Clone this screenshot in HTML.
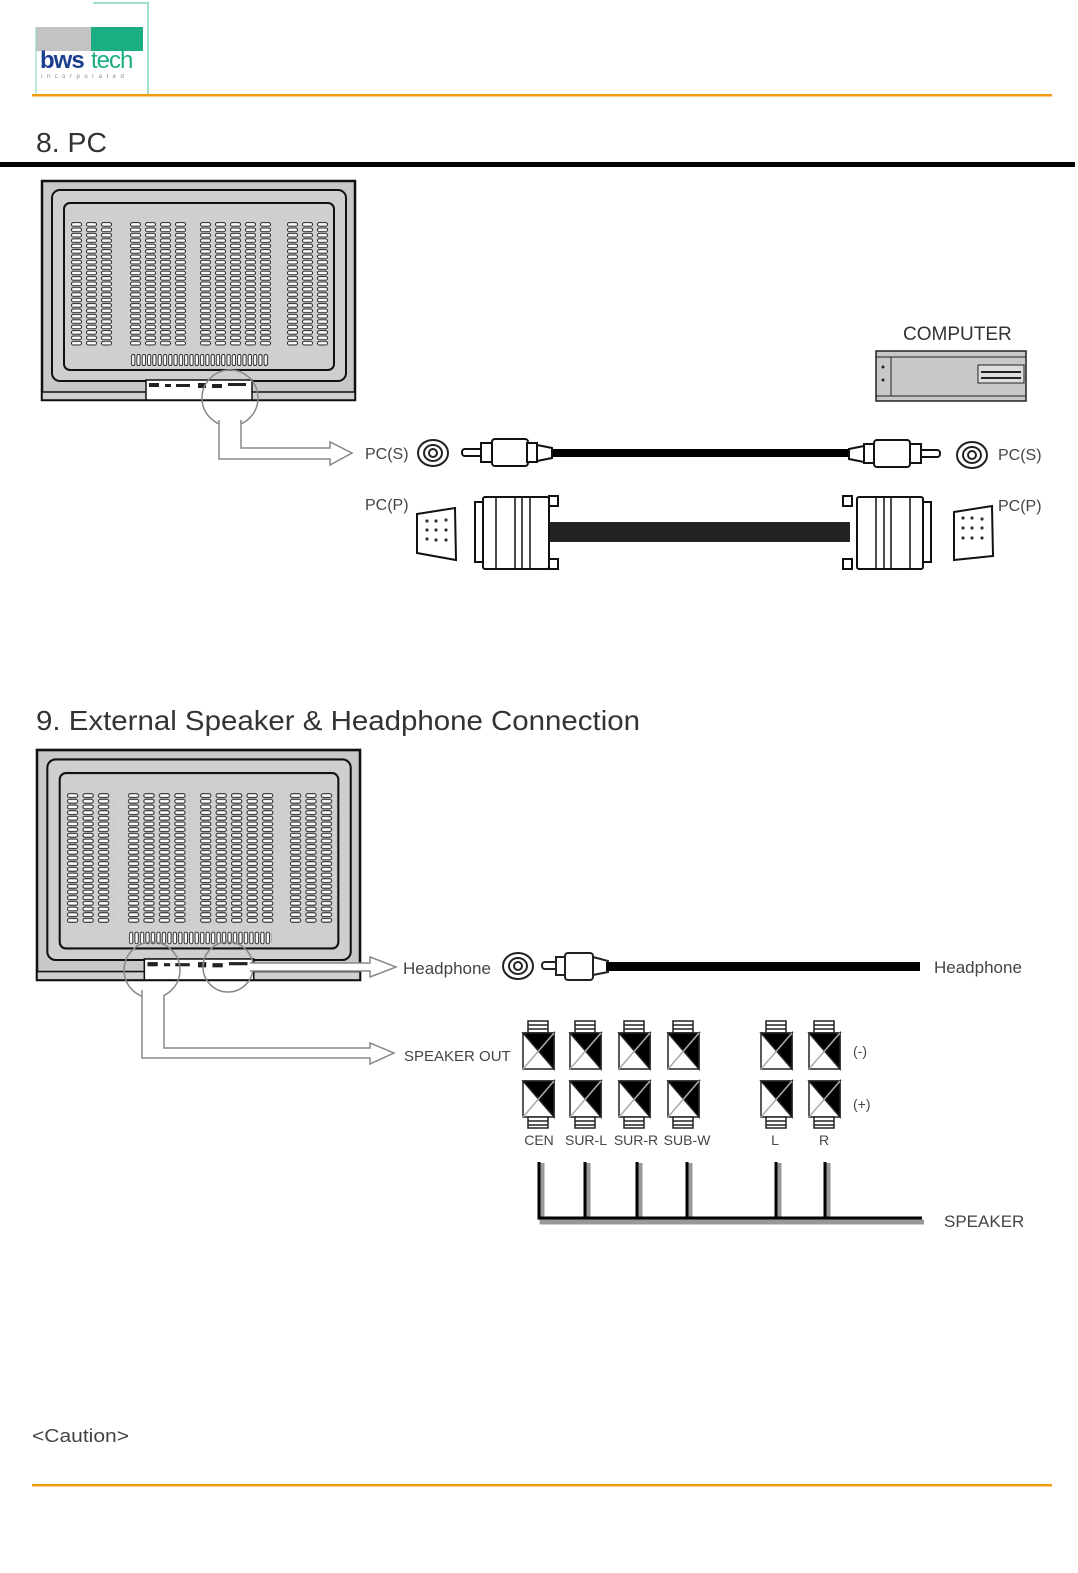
<!DOCTYPE html>
<html><head><meta charset="utf-8"><style>
body{margin:0;background:#fff;}
svg{display:block}
text{font-family:"Liberation Sans",sans-serif;}
</style></head><body>
<svg width="1078" height="1573" viewBox="0 0 1078 1573" xmlns="http://www.w3.org/2000/svg">
<defs>
<pattern id="sl1" x="71" y="222" width="15" height="5.4" patternUnits="userSpaceOnUse">
<rect x="0.5" y="0.6" width="10" height="3.6" rx="1.8" fill="#fff" stroke="#222" stroke-width="1"/>
</pattern>
<pattern id="sl2" x="130" y="222" width="15" height="5.4" patternUnits="userSpaceOnUse">
<rect x="0.5" y="0.6" width="10" height="3.6" rx="1.8" fill="#fff" stroke="#222" stroke-width="1"/>
</pattern>
<pattern id="sl3" x="200" y="222" width="15" height="5.4" patternUnits="userSpaceOnUse">
<rect x="0.5" y="0.6" width="10" height="3.6" rx="1.8" fill="#fff" stroke="#222" stroke-width="1"/>
</pattern>
<pattern id="sl4" x="287" y="222" width="15" height="5.4" patternUnits="userSpaceOnUse">
<rect x="0.5" y="0.6" width="10" height="3.6" rx="1.8" fill="#fff" stroke="#222" stroke-width="1"/>
</pattern>
<pattern id="vs" x="131" y="354" width="5.3" height="14" patternUnits="userSpaceOnUse">
<rect x="0.6" y="0.5" width="3.2" height="11" rx="1.5" fill="#fff" stroke="#222" stroke-width="0.9"/>
</pattern>
<g id="tv">
<rect x="42" y="181" width="313" height="219" fill="#c8c8c8" stroke="#111" stroke-width="2.5"/>
<rect x="52" y="190" width="294" height="191" rx="8" fill="#cfcfcf" stroke="#111" stroke-width="2"/>
<rect x="64" y="203" width="270" height="167" rx="6" fill="#cfcfcf" stroke="#111" stroke-width="2"/>
<rect x="71" y="222" width="45" height="124" fill="url(#sl1)"/>
<rect x="130" y="222" width="60" height="124" fill="url(#sl2)"/>
<rect x="200" y="222" width="75" height="124" fill="url(#sl3)"/>
<rect x="287" y="222" width="45" height="124" fill="url(#sl4)"/>
<rect x="131" y="354" width="138" height="13" fill="url(#vs)"/>
<rect x="42" y="392" width="313" height="8" fill="#d0d0d0" stroke="#111" stroke-width="1.5"/>
<rect x="146" y="380" width="106" height="20" fill="#fff" stroke="#111" stroke-width="1.5"/>
<g fill="#222"><rect x="149" y="383" width="10" height="4"/><rect x="165" y="384" width="6" height="3"/><rect x="176" y="384" width="14" height="3"/><rect x="198" y="383" width="8" height="5"/><rect x="212" y="384" width="10" height="4"/><rect x="228" y="383" width="18" height="3"/></g>
</g>
</defs>

<rect x="36" y="27" width="55" height="24" fill="#c3c3c3"/>
<rect x="91" y="27" width="52" height="24" fill="#1bae82"/>
<line x1="93" y1="3" x2="149" y2="3" stroke="#7fd7bd" stroke-width="1.5"/>
<line x1="148" y1="3" x2="148" y2="94" stroke="#7fd7bd" stroke-width="1.5"/>
<line x1="36" y1="27" x2="36" y2="94" stroke="#7fd7bd" stroke-width="1"/>
<text x="40" y="68" font-size="24" font-weight="bold" fill="#1c3e8f" letter-spacing="-1">bws</text>
<text x="91" y="68" font-size="24" fill="#1bae82" letter-spacing="-1">tech</text>
<text x="41" y="78" font-size="6" fill="#888" letter-spacing="4.5">incorporated</text>
<rect x="32" y="94" width="1020" height="2.5" fill="#f39c12"/>

<text x="36" y="152" font-size="28" fill="#333" textLength="71" lengthAdjust="spacingAndGlyphs">8.  PC</text>
<rect x="0" y="162" width="1075" height="5" fill="#000"/>

<use href="#tv"/>
<circle cx="230" cy="398" r="28" fill="none" stroke="#888" stroke-width="1.5"/>
<path d="M219,420 L219,459 L330,459 L330,465 L352,453 L330,442 L330,448 L241,448 L241,420" fill="#fff" stroke="#888" stroke-width="1.5"/>

<text x="365" y="459" font-size="16" fill="#444">PC(S)</text>
<text x="998" y="460" font-size="16" fill="#444">PC(S)</text>
<text x="365" y="510" font-size="16" fill="#444">PC(P)</text>
<text x="998" y="511" font-size="16" fill="#444">PC(P)</text>
<text x="903" y="340" font-size="19" fill="#333">COMPUTER</text>

<rect x="876" y="351" width="150" height="50" fill="#c8c8c8" stroke="#222" stroke-width="1.5"/>
<line x1="876" y1="357" x2="1026" y2="357" stroke="#222"/>
<line x1="876" y1="396" x2="1026" y2="396" stroke="#222"/>
<line x1="891" y1="357" x2="891" y2="396" stroke="#222"/>
<rect x="978" y="365" width="46" height="18" fill="#ddd" stroke="#222"/>
<line x1="981" y1="372" x2="1021" y2="372" stroke="#222" stroke-width="2"/>
<line x1="981" y1="378" x2="1021" y2="378" stroke="#222" stroke-width="2"/>
<circle cx="883" cy="367" r="1.5" fill="#222"/><circle cx="883" cy="380" r="1.5" fill="#222"/>

<g fill="#fff" stroke="#222" stroke-width="2">
<ellipse cx="433" cy="453" rx="15" ry="13"/><ellipse cx="433" cy="453" rx="9" ry="8"/><ellipse cx="433" cy="453" rx="4" ry="4"/>
<ellipse cx="972" cy="455" rx="15" ry="13"/><ellipse cx="972" cy="455" rx="9" ry="8"/><ellipse cx="972" cy="455" rx="4" ry="4"/>
</g>
<rect x="550" y="449" width="300" height="8" fill="#000"/>
<g fill="#fff" stroke="#111" stroke-width="2">
<rect x="462" y="449" width="22" height="7" rx="3"/>
<rect x="481" y="443" width="12" height="19"/>
<rect x="492" y="439" width="36" height="27" rx="3"/>
<rect x="527" y="443" width="10" height="19"/>
<path d="M537,445 L552,448 L552,458 L537,461Z"/>
<rect x="918" y="450" width="22" height="7" rx="3"/>
<rect x="909" y="444" width="12" height="19"/>
<rect x="874" y="440" width="36" height="27" rx="3"/>
<rect x="864" y="444" width="10" height="19"/>
<path d="M864,446 L849,449 L849,459 L864,462Z"/>
</g>
<rect x="550" y="522" width="300" height="20" fill="#222"/>
<g fill="#fff" stroke="#111" stroke-width="2">
<path d="M417,514 L455,508 L456,560 L417,553Z"/>
<path d="M954,512 L992,506 L993,556 L954,560Z"/>
<rect x="475" y="502" width="8" height="60"/>
<rect x="483" y="497" width="66" height="72" rx="2"/>
<rect x="549" y="496" width="9" height="10"/><rect x="549" y="559" width="9" height="10"/>
<rect x="923" y="502" width="8" height="60"/>
<rect x="857" y="497" width="66" height="72" rx="2"/>
<rect x="843" y="496" width="9" height="10"/><rect x="843" y="559" width="9" height="10"/>
</g>
<g stroke="#111" stroke-width="1.5">
<line x1="496" y1="497" x2="496" y2="569"/><line x1="515" y1="497" x2="515" y2="569"/><line x1="522" y1="497" x2="522" y2="569"/><line x1="530" y1="497" x2="530" y2="569"/>
<line x1="910" y1="497" x2="910" y2="569"/><line x1="891" y1="497" x2="891" y2="569"/><line x1="884" y1="497" x2="884" y2="569"/><line x1="876" y1="497" x2="876" y2="569"/>
</g>
<g fill="#333">
<circle cx="427" cy="521" r="1.6"/><circle cx="436" cy="521" r="1.6"/><circle cx="446" cy="520" r="1.6"/>
<circle cx="427" cy="530" r="1.6"/><circle cx="436" cy="530" r="1.6"/><circle cx="446" cy="530" r="1.6"/>
<circle cx="427" cy="539" r="1.6"/><circle cx="436" cy="540" r="1.6"/><circle cx="446" cy="540" r="1.6"/>
<circle cx="963" cy="518" r="1.6"/><circle cx="972" cy="518" r="1.6"/><circle cx="982" cy="519" r="1.6"/>
<circle cx="963" cy="528" r="1.6"/><circle cx="972" cy="528" r="1.6"/><circle cx="982" cy="528" r="1.6"/>
<circle cx="963" cy="538" r="1.6"/><circle cx="972" cy="538" r="1.6"/><circle cx="982" cy="538" r="1.6"/>
</g>

<text x="36" y="730" font-size="28" fill="#333" textLength="604" lengthAdjust="spacingAndGlyphs">9.  External Speaker  &amp; Headphone Connection</text>

<use href="#tv" transform="translate(37,750) scale(1.032,1.05) translate(-42,-181)"/>
<circle cx="152" cy="970" r="28" fill="none" stroke="#888" stroke-width="1.5"/>
<circle cx="228" cy="967" r="25" fill="none" stroke="#888" stroke-width="1.5"/>
<path d="M142,990 L142,1058 L370,1058 L370,1064 L394,1053 L370,1043 L370,1048 L164,1048 L164,995" fill="#fff" stroke="#888" stroke-width="1.5"/>
<path d="M250,963 L370,963 L370,957 L396,967 L370,977 L370,971 L250,971" fill="#fff" stroke="#888" stroke-width="1.5"/>
<text x="403" y="974" font-size="17" fill="#444">Headphone</text>
<text x="934" y="973" font-size="17" fill="#444">Headphone</text>
<text x="404" y="1061" font-size="15" fill="#444">SPEAKER OUT</text>
<g fill="#fff" stroke="#222" stroke-width="2">
<ellipse cx="518" cy="966" rx="15" ry="13"/><ellipse cx="518" cy="966" rx="9" ry="8"/><ellipse cx="518" cy="966" rx="4" ry="4"/>
<rect x="542" y="962" width="18" height="7" rx="3"/>
<rect x="556" y="957" width="10" height="18"/>
<rect x="565" y="953" width="28" height="27" rx="3"/>
<path d="M593,957 L608,961 L608,972 L593,975Z"/>
</g>
<rect x="606" y="962" width="314" height="9" fill="#000"/>

<g id="trm">
<g stroke="#222" stroke-width="1.5" fill="#fff">
<rect x="528" y="1021" width="20" height="12"/>
<line x1="528" y1="1025" x2="548" y2="1025"/><line x1="528" y1="1029" x2="548" y2="1029"/>
<rect x="523" y="1033" width="31" height="36"/>
<path d="M523,1033 L554,1033 L538.5,1051Z" fill="#000"/>
<path d="M554,1033 L554,1069 L538.5,1051Z" fill="#000"/>
<line x1="523" y1="1069" x2="554" y2="1033" stroke="#aaa"/>
<rect x="523" y="1081" width="31" height="36"/>
<path d="M523,1081 L554,1081 L538.5,1099Z" fill="#000"/>
<path d="M554,1081 L554,1117 L538.5,1099Z" fill="#000"/>
<line x1="523" y1="1117" x2="554" y2="1081" stroke="#aaa"/>
<rect x="528" y="1117" width="20" height="11"/>
<line x1="528" y1="1121" x2="548" y2="1121"/><line x1="528" y1="1125" x2="548" y2="1125"/>
</g>
</g>
<use href="#trm" x="47"/><use href="#trm" x="96"/><use href="#trm" x="145"/><use href="#trm" x="238"/><use href="#trm" x="286"/>
<g font-size="14" fill="#444" text-anchor="middle">
<text x="539" y="1145">CEN</text><text x="586" y="1145">SUR-L</text><text x="636" y="1145">SUR-R</text><text x="687" y="1145">SUB-W</text>
<text x="775" y="1145">L</text><text x="824" y="1145">R</text>
</g>
<text x="853" y="1056" font-size="14" fill="#444">(-)</text>
<text x="853" y="1109" font-size="14" fill="#444">(+)</text>
<g stroke="#999" stroke-width="5" fill="none">
<path d="M542,1163 L542,1222 L924,1222"/>
<line x1="588" y1="1163" x2="588" y2="1220"/><line x1="640" y1="1163" x2="640" y2="1220"/><line x1="690" y1="1163" x2="690" y2="1220"/>
<line x1="779" y1="1163" x2="779" y2="1220"/><line x1="828" y1="1163" x2="828" y2="1220"/>
</g>
<g stroke="#000" stroke-width="3" fill="none">
<path d="M539,1162 L539,1218 L922,1218"/>
<line x1="585" y1="1162" x2="585" y2="1218"/><line x1="637" y1="1162" x2="637" y2="1218"/><line x1="687" y1="1162" x2="687" y2="1218"/>
<line x1="776" y1="1162" x2="776" y2="1218"/><line x1="825" y1="1162" x2="825" y2="1218"/>
</g>
<text x="944" y="1227" font-size="17" fill="#444">SPEAKER</text>

<text x="32" y="1442" font-size="18" fill="#444" textLength="97" lengthAdjust="spacingAndGlyphs">&lt;Caution&gt;</text>
<rect x="32" y="1484" width="1020" height="2.5" fill="#f39c12"/>
</svg>
</body></html>
